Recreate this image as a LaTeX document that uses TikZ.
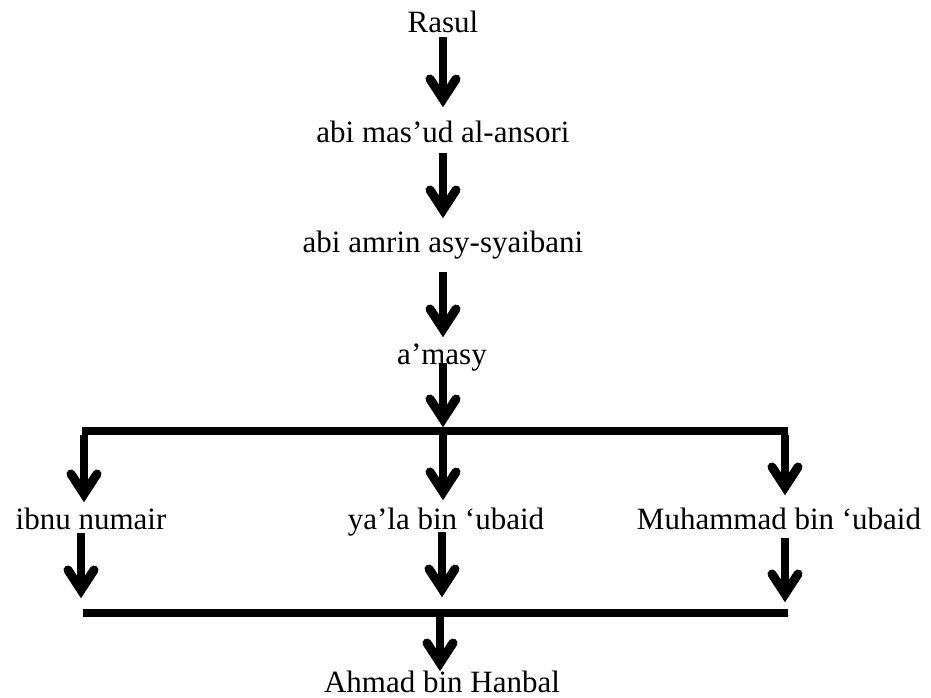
\documentclass[tikz,border=0pt]{standalone}
\usepackage{fontspec}
\setmainfont{Liberation Serif}
\tikzset{
  x=1pt, y=1pt,
  lbl/.style={anchor=base, inner sep=0pt, font=\fontsize{31}{37}\selectfont},
  shadowed/.style={preaction={draw=black!22, transform canvas={shift={(1.6pt,-1.8pt)}}}},
  shaft/.style={line width=8.5pt, line cap=butt, shadowed},
  barb/.style={line width=9pt, line cap=round, line join=miter, shadowed},
  bar/.style={line width=8pt, line cap=butt, shadowed}
}
\newcommand\thickarr[2]{%
  \draw[shaft] (#1) -- (#2);
  \draw[barb] ([xshift=-13pt,yshift=20pt]#2) -- (#2) -- ([xshift=13pt,yshift=20pt]#2);%
}
\begin{document}
\begin{tikzpicture}
\useasboundingbox (0,0) rectangle (931,698);
% texts
\node[lbl] (rasul) at (443,665) {Rasul};
\node[lbl] (masud) at (443,555) {abi mas’ud al-ansori};
\node[lbl] (amrin) at (443,445) {abi amrin asy-syaibani};
\node[lbl] (amasy) at (442,333) {a’masy};
\node[lbl] (numair) at (91,168) {ibnu numair};
\node[lbl] (yala) at (446,168) {ya’la bin ‘ubaid};
\node[lbl] (muh) at (779,168) {Muhammad bin ‘ubaid};
\node[lbl] (ahmad) at (442,5.5) {Ahmad bin Hanbal};
% arrow coordinates
\coordinate (s1) at (443,661); \coordinate (t1) at (443,599);
\coordinate (s2) at (443,545); \coordinate (t2) at (443,488);
\coordinate (s3) at (443,426); \coordinate (t3) at (443,369);
\coordinate (s4) at (443,335); \coordinate (t4) at (443,279);
\coordinate (barL) at (82,267); \coordinate (barR) at (788,267);
\coordinate (sL) at (84,263); \coordinate (tL) at (84,204);
\coordinate (sM) at (443,263); \coordinate (tM) at (443,206);
\coordinate (sR) at (785,263); \coordinate (tR) at (785,211);
\coordinate (uL) at (81,165); \coordinate (vL) at (81,108);
\coordinate (uM) at (442,166); \coordinate (vM) at (442,109);
\coordinate (uR) at (785,160); \coordinate (vR) at (785,104);
\coordinate (lowL) at (83,85); \coordinate (lowR) at (788,85);
\coordinate (sF) at (440,81); \coordinate (tF) at (440,35);
% bars
\draw[bar] (barL) -- (barR);
\draw[bar] (lowL) -- (lowR);
% arrows
\thickarr{s1}{t1}
\thickarr{s2}{t2}
\thickarr{s3}{t3}
\thickarr{s4}{t4}
\thickarr{sL}{tL}
\thickarr{sM}{tM}
\thickarr{sR}{tR}
\thickarr{uL}{vL}
\thickarr{uM}{vM}
\thickarr{uR}{vR}
\thickarr{sF}{tF}
\end{tikzpicture}
\end{document}
